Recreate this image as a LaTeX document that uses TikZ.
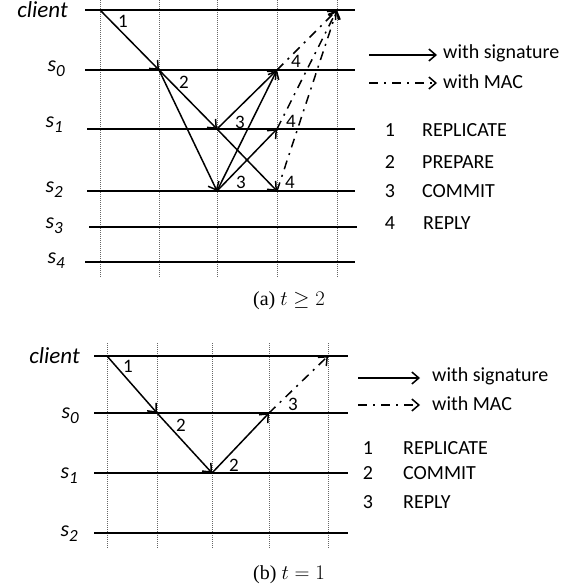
\documentclass[tikz,border=0pt]{standalone}
\usepackage{fontspec}
\setmainfont{Carlito}
\newfontfamily\capfont{Liberation Serif}
\usetikzlibrary{arrows.meta}
\newcommand\rowsub[1]{\raisebox{-5pt}{\fontsize{17}{17}\selectfont #1}}
\begin{document}
\begin{tikzpicture}[x=1pt,y=-1pt,
  lifeline/.style={line width=2pt},
  gridline/.style={line width=0.8pt, black!60, dash pattern=on 1pt off 1pt},
  sig/.style={line width=1.5pt, -{Straight Barb[length=7pt,width=12pt]}},
  mac/.style={sig, dash pattern=on 9pt off 6pt on 2pt off 6pt},
  msg/.style={font=\fontsize{19}{23}\selectfont, inner sep=0pt},
  lgd/.style={font=\fontsize{20}{24}\selectfont, inner sep=0pt},
  rowlbl/.style={font=\fontsize{22}{26}\selectfont\itshape, inner sep=0pt, anchor=base east},
  captext/.style={font=\fontsize{20}{24}\selectfont\capfont, inner sep=0pt}]

\useasboundingbox (0,0) rectangle (574,588);

% ---------------- (a) ----------------
\foreach \x in {100,159,217,277,337} \draw[gridline] (\x,0) -- (\x,277);
\draw[lifeline] (85,10) -- (355,10);
\draw[lifeline] (85,70) -- (355,70);
\draw[lifeline] (87,129) -- (355,129);
\draw[lifeline] (87,191) -- (355,191);
\draw[lifeline] (89,227) -- (357,227);
\draw[lifeline] (85,262) -- (355,262);

\node[rowlbl, font=\fontsize{23}{27}\selectfont\itshape] (aLc) at (68,18) {client};
\node[rowlbl] (aL0) at (65,72) {s\rowsub{0}};
\node[rowlbl] (aL1) at (63,128) {s\rowsub{1}};
\node[rowlbl] (aL2) at (63,192) {s\rowsub{2}};
\node[rowlbl] (aL3) at (63,228) {s\rowsub{3}};
\node[rowlbl] (aL4) at (65,263) {s\rowsub{4}};

\coordinate (aC1) at (100,10);
\coordinate (aC5) at (337,10);
\coordinate (a02) at (159,70);
\coordinate (a04) at (277,70);
\coordinate (a13) at (217,129);
\coordinate (a14) at (277,129);
\coordinate (a23) at (217,191);
\coordinate (a24) at (277,191);

\draw[sig] (aC1) -- (a02);
\draw[sig] (a02) -- (a13);
\draw[sig] (a02) -- (a23);
\draw[sig] (a13) -- (a04);
\draw[sig] (a13) -- (a24);
\draw[sig] (a23) -- (a04);
\draw[sig] (a23) -- (a14);
\draw[mac] (a04) -- (aC5);
\draw[mac] (a14) -- (aC5);
\draw[mac] (a24) -- (aC5);

\node[msg] (am1) at (123,21) {1};
\node[msg] (am2) at (184,82) {2};
\node[msg] (am3a) at (240,122) {3};
\node[msg] (am3b) at (241,182) {3};
\node[msg] (am4a) at (296,61) {4};
\node[msg] (am4b) at (291,121) {4};
\node[msg] (am4c) at (290,182) {4};

% legend (a)
\coordinate (aS1) at (369,55);
\coordinate (aS2) at (437,55);
\coordinate (aM1) at (369,83);
\coordinate (aM2) at (437,83);
\draw[sig] (aS1) -- (aS2);
\draw[mac] (aM1) -- (aM2);
\node[lgd, anchor=west] (aT1) at (443,53) {with signature};
\node[lgd, anchor=west] (aT2) at (443,82) {with MAC};
\node[lgd] (an1) at (390,130) {1};
\node[lgd, anchor=west] (ak1) at (422,130) {REPLICATE};
\node[lgd] (an2) at (390,162) {2};
\node[lgd, anchor=west] (ak2) at (422,162) {PREPARE};
\node[lgd] (an3) at (390,191) {3};
\node[lgd, anchor=west] (ak3) at (422,191) {COMMIT};
\node[lgd] (an4) at (390,223) {4};
\node[lgd, anchor=west] (ak4) at (423,223) {REPLY};

\node[captext, anchor=base] (capa) at (289,305) {(a) $t \geq 2$};

% ---------------- (b) ----------------
\foreach \x in {107,157,212,269,328} \draw[gridline] (\x,343) -- (\x,548);
\draw[lifeline] (94,356) -- (348,356);
\draw[lifeline] (94,413) -- (348,413);
\draw[lifeline] (94,473) -- (348,473);
\draw[lifeline] (94,533) -- (348,533);

\node[rowlbl, font=\fontsize{23}{27}\selectfont\itshape] (bLc) at (80,363) {client};
\node[rowlbl] (bL0) at (79,418) {s\rowsub{0}};
\node[rowlbl] (bL1) at (78,478) {s\rowsub{1}};
\node[rowlbl] (bL2) at (78,536) {s\rowsub{2}};

\coordinate (bC1) at (107,356);
\coordinate (bC5) at (328,356);
\coordinate (b02) at (157,413);
\coordinate (b04) at (269,413);
\coordinate (b13) at (212,473);

\draw[sig] (bC1) -- (b02);
\draw[sig] (b02) -- (b13);
\draw[sig] (b13) -- (b04);
\draw[mac] (b04) -- (bC5);

\node[msg] (bm1) at (128,366) {1};
\node[msg] (bm2) at (181,425) {2};
\node[msg] (bm2b) at (234,465) {2};
\node[msg] (bm3) at (293,404) {3};

% legend (b)
\coordinate (bS1) at (358,378);
\coordinate (bS2) at (420,378);
\coordinate (bM1) at (358,405);
\coordinate (bM2) at (420,405);
\draw[sig] (bS1) -- (bS2);
\draw[mac] (bM1) -- (bM2);
\node[lgd, anchor=west] (bT1) at (432,376) {with signature};
\node[lgd, anchor=west] (bT2) at (432,404) {with MAC};
\node[lgd] (bn1) at (368,448) {1};
\node[lgd, anchor=west] (bk1) at (403,448) {REPLICATE};
\node[lgd] (bn2) at (368,473) {2};
\node[lgd, anchor=west] (bk2) at (403,473) {COMMIT};
\node[lgd] (bn3) at (368,502) {3};
\node[lgd, anchor=west] (bk3) at (403,502) {REPLY};

\node[captext, anchor=base] (capb) at (289,579) {(b) $t = 1$};
\end{tikzpicture}
\end{document}
